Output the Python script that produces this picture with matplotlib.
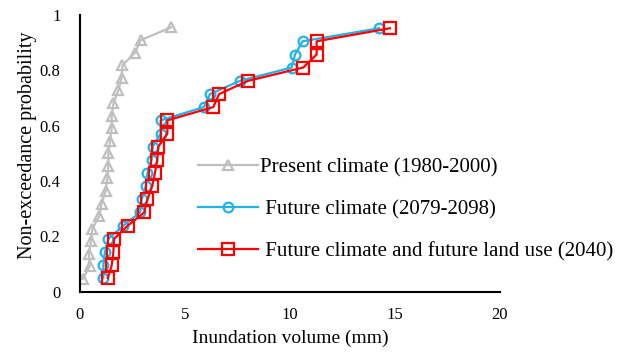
import matplotlib
matplotlib.use("Agg")
import matplotlib.pyplot as plt

# Data (inundation volume in mm, non-exceedance probability)
present_x = [0.13, 0.46, 0.42, 0.52, 0.59, 0.92, 1.03, 1.22, 1.30, 1.35, 1.35,
             1.43, 1.51, 1.51, 1.59, 1.83, 1.98, 2.02, 2.62, 2.89, 4.33]
present_p = [0.045, 0.091, 0.136, 0.182, 0.227, 0.273, 0.318, 0.364, 0.409, 0.455, 0.500,
             0.545, 0.591, 0.636, 0.682, 0.727, 0.773, 0.818, 0.864, 0.909, 0.955]

future_x = [1.11, 1.11, 1.19, 1.35, 2.06, 2.86, 2.94, 3.14, 3.21, 3.41,
            3.46, 3.84, 3.84, 5.90, 6.19, 7.62, 10.08, 10.24, 10.60, 14.24]
future_p = [0.048, 0.095, 0.143, 0.190, 0.238, 0.286, 0.333, 0.381, 0.429, 0.476,
            0.524, 0.571, 0.619, 0.667, 0.714, 0.762, 0.810, 0.857, 0.905, 0.952]

landuse_x = [1.32, 1.51, 1.59, 1.62, 2.27, 3.06, 3.21, 3.44, 3.57, 3.68,
             3.73, 4.16, 4.16, 6.35, 6.62, 8.01, 10.63, 11.27, 11.27, 14.76]
landuse_p = future_p

labels = ["Present climate (1980-2000)",
          " Future climate (2079-2098)",
          " Future climate and future land use (2040)"]
x_ticks = [0, 5, 10, 15, 20]
y_ticks = [0, 0.2, 0.4, 0.6, 0.8, 1]
y_tick_labels = ["0", "0.2", "0.4", "0.6", "0.8", "1"]

plt.rcParams['font.family'] = ['Liberation Serif', 'DejaVu Serif']

fig = plt.figure(figsize=(6.35, 3.52), dpi=100)
ax = fig.add_axes([80/635, 1 - 291.5/352, 420/635, 276.5/352])

ax.plot(present_x, present_p, color='#BFBFBF', lw=1.6, marker='^', ms=7.5,
        mfc='none', mec='#BFBFBF', mew=1.6, label=labels[0])
ax.plot(future_x, future_p, color='#1EB4EA', lw=1.6, marker='o', ms=7,
        mfc='none', mec='#1EB4EA', mew=1.6, label=labels[1])
ax.plot(landuse_x, landuse_p, color='#FF0000', lw=1.6, marker='s', ms=8,
        mfc='none', mec='#FF0000', mew=1.6, label=labels[2])

ax.set_xlim(0, 20)
ax.set_ylim(0, 1)
ax.set_xticks(x_ticks)
ax.set_xticklabels([str(t) for t in x_ticks])
ax.set_yticks(y_ticks)
ax.set_yticklabels(y_tick_labels)
ax.tick_params(length=0, labelsize=12)
ax.tick_params(axis='x', pad=11)
ax.tick_params(axis='y', pad=14)
for s in ['top', 'right']:
    ax.spines[s].set_visible(False)
for s in ['left', 'bottom']:
    ax.spines[s].set_linewidth(1.5)
    ax.spines[s].set_color('black')

ax.set_xlabel("Inundation volume (mm)", fontsize=14, labelpad=5)
ax.set_ylabel("Non-exceedance probability", fontsize=14.5)
ax.yaxis.set_label_coords(-43/420, 0.53)

leg = ax.legend(loc='upper left', bbox_to_anchor=((198-80)/420, (291.5-158)/276.5),
                frameon=False, fontsize=15, handlelength=2.9, handletextpad=0.1,
                borderpad=0, borderaxespad=0, labelspacing=1.07)

fig.savefig("out.png", dpi=100)
